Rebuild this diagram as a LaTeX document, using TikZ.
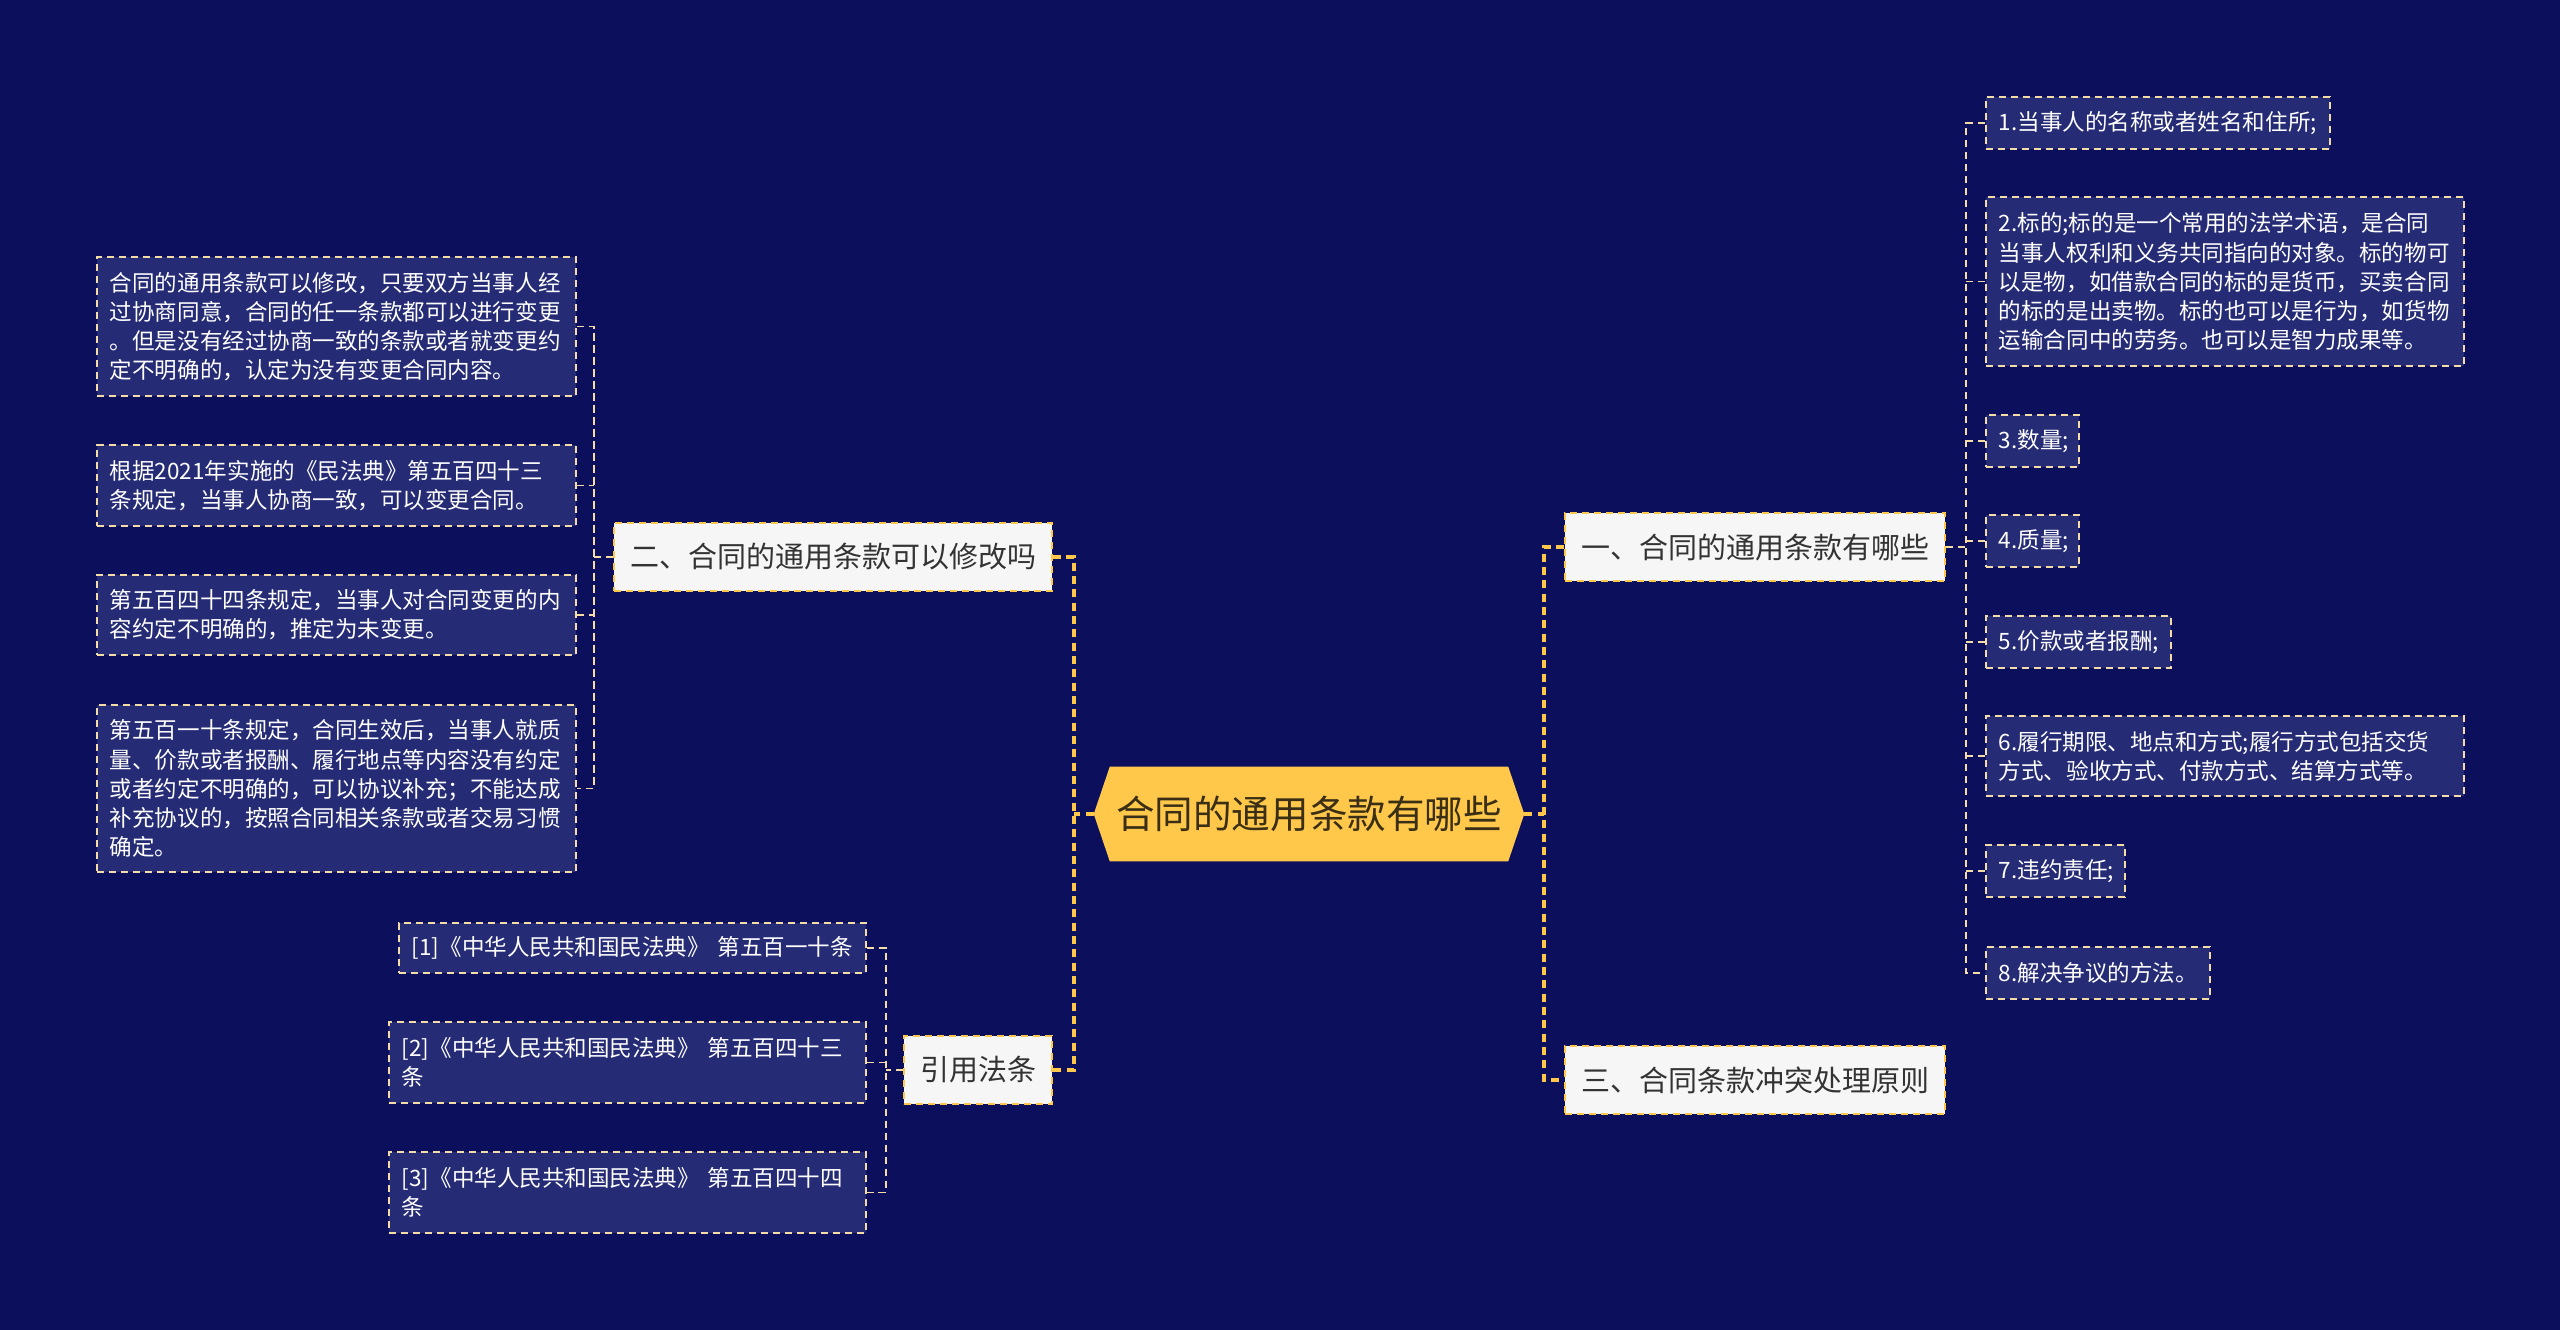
\documentclass[tikz,border=0pt]{standalone}
\usepackage{fontspec}
\setmainfont{Noto Sans CJK SC}
\usetikzlibrary{backgrounds}
\newdimen\pxu \pxu=0.75pt
\definecolor{bg}{HTML}{0B0F5C}
\definecolor{leaffill}{HTML}{252B75}
\definecolor{cream}{HTML}{F3DCA6}
\definecolor{gold}{HTML}{FFC84B}
\definecolor{boxfill}{HTML}{F6F6F6}
\definecolor{darktext}{HTML}{333333}
\definecolor{roottext}{HTML}{3A2E14}
\newcommand\leaffont{\fontsize{16.9pt}{21.8pt}\selectfont}
\newcommand\brfont{\fontsize{21.75pt}{26pt}\selectfont}
\newcommand\rootfont{\fontsize{28.9pt}{34pt}\selectfont}
\tikzset{
  leaf/.style={draw=cream, line width=1.3pt, dash pattern=on 5.5pt off 3.5pt, fill=leaffill, text=white, font=\leaffont, align=left, inner xsep=13\pxu, inner ysep=0pt, anchor=west},
  branch/.style={draw=gold, line width=1.5pt, dash pattern=on 5.5pt off 3.5pt, fill=boxfill, text=darktext, font=\brfont, inner xsep=16\pxu, inner ysep=0pt, minimum height=68\pxu},
  rootbox/.style={text=roottext, font=\rootfont, inner sep=0pt, minimum width=398\pxu, minimum height=94\pxu},
  c1/.style={draw=gold, line width=2.4pt, dash pattern=on 6pt off 4pt},
  c2/.style={draw=cream, line width=1.3pt, dash pattern=on 5.5pt off 3.5pt}
}
\begin{document}
\begin{tikzpicture}[x=0.75pt,y=-0.75pt]
\useasboundingbox (0,0) rectangle (2560,1330);
\begin{scope}[on background layer]
\fill[bg] (0,0) rectangle (2560,1330);
\end{scope}

% root
\node[rootbox] (root) at (1309,814) {合同的通用条款有哪些};
\begin{scope}[on background layer]
\fill[gold] (root.north west) -- (root.north east) -- ([xshift=16\pxu]root.east) -- (root.south east) -- (root.south west) -- ([xshift=-16\pxu]root.west) -- cycle;
\end{scope}
\coordinate (rE) at ([xshift=16\pxu]root.east);
\coordinate (rW) at ([xshift=-16\pxu]root.west);

% level-1 branches
\node[branch, anchor=west] (b1) at (1564,547) {一、合同的通用条款有哪些};
\node[branch, anchor=west] (b3) at (1564,1080) {三、合同条款冲突处理原则};
\node[branch, anchor=east] (b2) at (1053,557) {二、合同的通用条款可以修改吗};
\node[branch, anchor=east] (b4) at (1053,1070) {引用法条};

% right leaves
\node[leaf, text width=318\pxu, minimum height=52\pxu] (L1) at (1985,123) {1.当事人的名称或者姓名和住所;};
\node[leaf, text width=452\pxu, minimum height=169\pxu] (L2) at (1985,281.5) {2.标的;标的是一个常用的法学术语，是合同\\当事人权利和义务共同指向的对象。标的物可\\以是物，如借款合同的标的是货币，买卖合同\\的标的是出卖物。标的也可以是行为，如货物\\运输合同中的劳务。也可以是智力成果等。};
\node[leaf, text width=67\pxu, minimum height=52\pxu] (L3) at (1985,441) {3.数量;};
\node[leaf, text width=67\pxu, minimum height=52\pxu] (L4) at (1985,541) {4.质量;};
\node[leaf, text width=159\pxu, minimum height=52\pxu] (L5) at (1985,642) {5.价款或者报酬;};
\node[leaf, text width=452\pxu, minimum height=80\pxu] (L6) at (1985,756) {6.履行期限、地点和方式;履行方式包括交货\\方式、验收方式、付款方式、结算方式等。};
\node[leaf, text width=113\pxu, minimum height=52\pxu] (L7) at (1985,871) {7.违约责任;};
\node[leaf, text width=198\pxu, minimum height=52\pxu] (L8) at (1985,973) {8.解决争议的方法。};

% left leaves
\node[leaf, text width=453\pxu, minimum height=139\pxu] (A) at (96,326.5) {合同的通用条款可以修改，只要双方当事人经\\过协商同意，合同的任一条款都可以进行变更\\。但是没有经过协商一致的条款或者就变更约\\定不明确的，认定为没有变更合同内容。};
\node[leaf, text width=453\pxu, minimum height=81\pxu] (B) at (96,485.5) {根据2021年实施的《民法典》第五百四十三\\条规定，当事人协商一致，可以变更合同。};
\node[leaf, text width=453\pxu, minimum height=80\pxu] (C) at (96,615) {第五百四十四条规定，当事人对合同变更的内\\容约定不明确的，推定为未变更。};
\node[leaf, text width=453\pxu, minimum height=167\pxu] (D) at (96,788.5) {第五百一十条规定，合同生效后，当事人就质\\量、价款或者报酬、履行地点等内容没有约定\\或者约定不明确的，可以协议补充；不能达成\\补充协议的，按照合同相关条款或者交易习惯\\确定。};

% references
\node[leaf, text width=441\pxu, minimum height=50\pxu] (R1) at (398,948) {[1]《中华人民共和国民法典》~第五百一十条};
\node[leaf, text width=451\pxu, minimum height=81\pxu] (R2) at (388,1062.5) {[2]《中华人民共和国民法典》~第五百四十三\\条};
\node[leaf, text width=451\pxu, minimum height=81\pxu] (R3) at (388,1192.5) {[3]《中华人民共和国民法典》~第五百四十四\\条};

% trunk coordinates
\coordinate (tR) at (1544,814);
\coordinate (tL) at (1074,814);
\coordinate (kR) at (1966,547);
\coordinate (kL) at (594,557);
\coordinate (kC) at (886,1070);

% level-1 connectors
\draw[c1] (rE) -- (tR);
\draw[c1] (b1.west) -| (tR) |- (b3.west);
\draw[c1] (rW) -- (tL);
\draw[c1] (b2.east) -| (tL) |- (b4.east);

% right leaf connectors
\draw[c2] (b1.east) -- (kR);
\draw[c2] (L1.west) -| (kR) |- (L8.west);
\foreach \n in {L2,L3,L4,L5,L6,L7} {\draw[c2] (\n.west) -- (\n.west -| kR);}

% left leaf connectors
\draw[c2] (b2.west) -- (kL);
\draw[c2] (A.east) -| (kL) |- (D.east);
\foreach \n in {B,C} {\draw[c2] (\n.east) -- (\n.east -| kL);}

% reference connectors
\draw[c2] (b4.west) -- (kC);
\draw[c2] (R1.east) -| (kC) |- (R3.east);
\draw[c2] (R2.east) -- (R2.east -| kC);
\end{tikzpicture}
\end{document}
